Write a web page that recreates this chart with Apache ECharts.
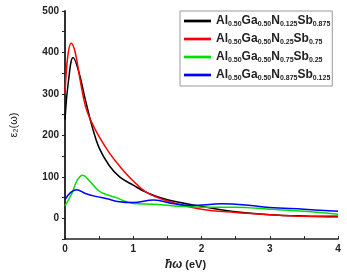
<!DOCTYPE html>
<html>
<head>
<meta charset="utf-8">
<script src="https://cdn.jsdelivr.net/npm/echarts@6/dist/echarts.min.js"></script>
<style>
  html, body { margin: 0; padding: 0; background: #fff; }
  #chart { width: 347px; height: 276px; }
</style>
</head>
<body>
<div id="chart"></div>
<script>
// series names (subscripts handled by the legend formatter)
const names = [
  'Al0.50Ga0.50N0.125Sb0.875',
  'Al0.50Ga0.50N0.25Sb0.75',
  'Al0.50Ga0.50N0.75Sb0.25',
  'Al0.50Ga0.50N0.875Sb0.125'
];
const colors = ['#000000', '#ff0000', '#00e000', '#0000ff'];

// photon energy (eV) and eps2 values
const x_black = [0, 0.05, 0.12, 0.2, 0.3, 0.4, 0.5, 0.65, 0.8, 1.0, 1.2, 1.5, 2.0, 2.5, 3.0, 3.5, 4.0];
const y_black = [238, 330, 388, 355, 285, 220, 170, 127, 100, 80, 62, 45, 29, 16, 9, 6, 5];

const x_red = [0, 0.04, 0.09, 0.15, 0.22, 0.3, 0.38, 0.5, 0.65, 0.8, 1.0, 1.2, 1.5, 2.0, 2.5, 3.0, 3.5, 4.0];
const y_red = [300, 390, 422, 400, 335, 270, 235, 197, 158, 126, 90, 62, 42, 22, 14, 9, 5, 3];

const x_green = [0, 0.1, 0.18, 0.26, 0.35, 0.5, 0.65, 0.75, 0.9, 1.0, 1.3, 1.6, 2.0, 2.5, 3.0, 3.5, 4.0];
const y_green = [30, 60, 92, 104, 92, 66, 55, 50, 40, 36, 34, 30, 27, 27, 22, 17, 10];

const x_blue = [0, 0.08, 0.17, 0.3, 0.45, 0.6, 0.8, 1.0, 1.3, 1.6, 1.85, 2.3, 2.6, 3.0, 3.5, 4.0];
const y_blue = [45, 62, 69, 60, 53, 48, 40, 38, 44, 35, 31, 35, 33, 26, 22, 17];

function pairs(xs, ys) {
  return xs.map(function (x, i) { return [x, ys[i]]; });
}

// turn "Al0.50Ga0.50N0.125Sb0.875" into rich text with subscripts
function subName(name) {
  var parts = name.match(/[A-Z][a-z]?|[0-9.]+/g);
  return parts.map(function (p) {
    return /[0-9]/.test(p) ? '{s|' + p + '}' : '{b|' + p + '}';
  }).join('');
}

var chart = echarts.init(document.getElementById('chart'));

var font = 'Liberation Sans, Arial, sans-serif';

var option = {
  animation: false,
  grid: { left: 53, right: 9, top: 11, bottom: 36 },
  legend: {
    data: names,
    orient: 'vertical',
    left: 180,
    top: 11,
    padding: [4, 2, 4, 4],
    itemGap: 5,
    itemWidth: 27,
    itemHeight: 14,
    borderColor: '#999',
    borderWidth: 1,
    icon: 'path://M0,0 L10,0 L10,1 L0,1 Z',
    formatter: subName,
    textStyle: {
      rich: {
        b: { fontFamily: font, fontWeight: 'bold', fontSize: 12, color: '#222', lineHeight: 14 },
        s: { fontFamily: font, fontWeight: 'bold', fontSize: 7, color: '#222', verticalAlign: 'bottom', padding: [6, 0, 0, 0], lineHeight: 14 }
      }
    }
  },
  xAxis: {
    type: 'value',
    min: 0,
    max: 4,
    interval: 1,
    name: '{i|\u0127\u03c9} (eV)',
    nameLocation: 'middle',
    nameGap: 16,
    nameTextStyle: {
      fontFamily: font, fontWeight: 'bold', fontSize: 11, color: '#222', padding: [0, 32, 0, 0],
      rich: { i: { fontFamily: font, fontWeight: 'bold', fontStyle: 'italic', fontSize: 12, color: '#222' } }
    },
    axisLine: { onZero: false, lineStyle: { color: '#222', width: 1.5 } },
    axisTick: { inside: true, length: 3, lineStyle: { color: '#222' } },
    minorTick: { show: true, splitNumber: 2, length: 3, lineStyle: { color: '#222' } },
    axisLabel: { fontFamily: font, fontWeight: 'bold', fontSize: 10, color: '#222', margin: 5 },
    splitLine: { show: false }
  },
  yAxis: [{
    type: 'value',
    min: -50,
    max: 500,
    interval: 50,
    name: '\u03b5\u2082(\u03c9)',
    nameLocation: 'middle',
    nameGap: 34,
    nameRotate: 90,
    nameTextStyle: { fontFamily: font, fontSize: 11, color: '#222', padding: [0, 0, 12, 0] },
    axisLine: { show: true, onZero: false, lineStyle: { color: '#222', width: 1.5 } },
    axisTick: { show: true, length: 3, lineStyle: { color: '#222' } },
    axisLabel: {
      fontFamily: font, fontWeight: 'bold', fontSize: 10, color: '#222', margin: 6,
      formatter: function (v) { return (v >= 0 && v % 100 === 0) ? v : ''; }
    },
    splitLine: { show: false }
  }, {
    type: 'value',
    min: -50,
    max: 500,
    position: 'right',
    axisLine: { show: true, lineStyle: { color: '#222', width: 1.5 } },
    axisTick: { show: false },
    axisLabel: { show: false },
    splitLine: { show: false }
  }],
  series: [
    { name: names[0], type: 'line', smooth: 0.4, showSymbol: false, data: pairs(x_black, y_black), color: colors[0], lineStyle: { width: 1.5 } },
    { name: names[1], type: 'line', smooth: 0.4, showSymbol: false, data: pairs(x_red, y_red), color: colors[1], lineStyle: { width: 1.5 } },
    { name: names[2], type: 'line', smooth: 0.4, showSymbol: false, data: pairs(x_green, y_green), color: colors[2], lineStyle: { width: 1.5 } },
    { name: names[3], type: 'line', smooth: 0.4, showSymbol: false, data: pairs(x_blue, y_blue), color: colors[3], lineStyle: { width: 1.5 } }
  ]
};

chart.setOption(option);
</script>
</body>
</html>
